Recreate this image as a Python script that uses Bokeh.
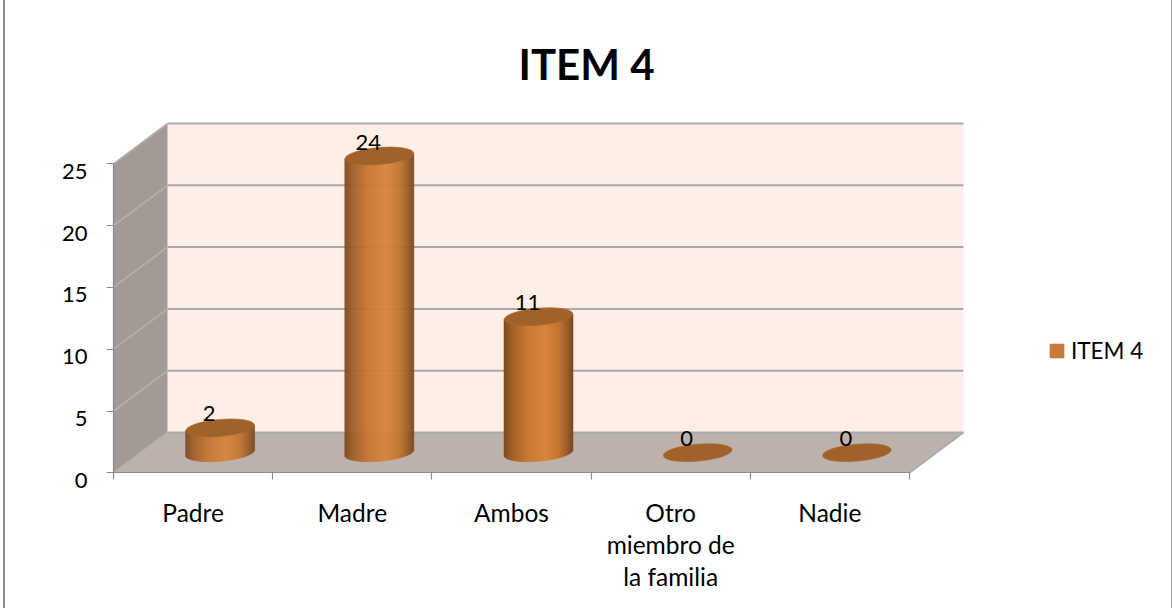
import numpy as np
from bokeh.core.properties import value
from bokeh.embed import file_html
from bokeh.models import (ColumnDataSource, FixedTicker, Legend, LegendItem,
                          LinearAxis, Range1d)
from bokeh.plotting import figure
from bokeh.resources import INLINE

TITLE = "ITEM 4"
categories = ["Padre", "Madre", "Ambos", "Otro\nmiembro de\nla familia", "Nadie"]
values = [2, 24, 11, 0, 0]
y_ticks = [0, 5, 10, 15, 20, 25]

FONT = "Lato"
W, H = 1172, 608
TOP = 100
X0, Y0 = 113.0, 472.3          # canvas pixel of the front-left floor corner
SX, SY = 159.2, 12.36          # pixels per category, pixels per unit
DX, DY = 54.0 / SX, 40.3 / SY  # depth of the 3D box in data units
LABEL_DROP = 7.5 / SY

p = figure(width=W, height=H, frame_width=W, frame_height=H - TOP, output_backend="svg",
           toolbar_location=None, tools="", min_border=0, min_border_top=TOP,
           x_range=Range1d(-X0 / SX, (W - X0) / SX),
           y_range=Range1d((Y0 - H) / SY, (Y0 - TOP) / SY),
           x_axis_type=None, y_axis_type=None, background_fill_color=None,
           border_fill_color=None, outline_line_color=None)
# the outer chart frame: left and right rules only
p.styles = {"position": "absolute", "left": "0", "top": "0",
            "background": "linear-gradient(#8c8c8c,#8c8c8c) 3px 0/2px 100% no-repeat, "
                          "linear-gradient(#a0a0a0,#a0a0a0) 1171px 0/1px 100% no-repeat"}
p.grid.visible = False
p.title.text = TITLE
p.title.align = "center"
p.title.offset = 2
p.title.text_font = FONT
p.title.text_font_size = "42px"
p.title.text_font_style = "bold"
p.title.text_color = "#000000"
p.title.standoff = 23

n = len(categories)
ymax = y_ticks[-1]

# walls and floor
p.patch([DX, n + DX, n + DX, DX], [DY, DY, ymax + DY, ymax + DY], fill_color="#fdeee6", line_color=None)
p.patch([0, DX, DX, 0], [0, DY, ymax + DY, ymax], fill_color="#a29a95", line_color=None)
p.patch([0, n, n + DX, DX], [0, 0, DY, DY], fill_color="#bdb1ac", line_color=None)

# gridlines on the back wall and on the side wall
GRID = "#a9a9a9"
p.segment(x0=[DX] * len(y_ticks), x1=[n + DX] * len(y_ticks), y0=[t + DY for t in y_ticks],
          y1=[t + DY for t in y_ticks], line_color=GRID, line_width=2)
p.segment(x0=[0] * len(y_ticks), x1=[DX] * len(y_ticks), y0=y_ticks,
          y1=[t + DY for t in y_ticks], line_color="#b5b0ad", line_width=1.6)
p.segment(x0=[n], x1=[n + DX], y0=[0], y1=[DY], line_color=GRID, line_width=1.6)

# cylinders
A, B, TILT = 34.5, 8.5, np.radians(5)
c, s = np.cos(TILT), np.sin(TILT)
P = s * s / A**2 + c * c / B**2
stops_f = [0.0, 0.12, 0.35, 0.6, 0.8, 0.93, 1.0]
stops_r = [0x7b, 0xa3, 0xc9, 0xd8, 0xc3, 0x96, 0x7b]
stops_g = [0x4a, 0x62, 0x7a, 0x86, 0x76, 0x5b, 0x4a]
stops_b = [0x20, 0x2b, 0x35, 0x3e, 0x31, 0x28, 0x20]
strips = dict(left=[], right=[], bottom=[], top=[], color=[])
edge = np.arange(-A, A, 1.0)
for i, v in enumerate(values):
    if v <= 0:
        continue
    cx = i + 0.5 + DX / 2
    for d in edge:
        m = d + 0.5
        Q = 2 * m * c * s * (1 / A**2 - 1 / B**2)
        R = m * m * (c * c / A**2 + s * s / B**2) - 1
        root = np.sqrt(max(Q * Q - 4 * P * R, 0))
        low = (-Q - root) / (2 * P)
        mid = -Q / (2 * P)
        f = (m + A) / (2 * A)
        col = "#%02x%02x%02x" % (int(np.interp(f, stops_f, stops_r)),
                                 int(np.interp(f, stops_f, stops_g)),
                                 int(np.interp(f, stops_f, stops_b)))
        strips["left"].append(cx + d / SX)
        strips["right"].append(cx + (d + 1) / SX)
        strips["bottom"].append(DY / 2 + low / SY)
        strips["top"].append(v + DY / 2 + mid / SY)
        strips["color"].append(col)
p.quad(left="left", right="right", bottom="bottom", top="top", source=ColumnDataSource(strips),
       fill_color="color", line_color="color", line_width=0.5)

xs = [i + 0.5 + DX / 2 for i in range(n)]
ys = [v + DY / 2 for v in values]
p.ellipse(x=xs, y=ys, width=2 * A / SX, height=2 * B / SY, angle=TILT,
          fill_color="#a0612b", line_color="#a8692f", line_width=0.6)

# value labels
p.text(x=xs, y=ys, text=[str(v) for v in values], text_font=value(FONT), text_font_size="22px",
       text_color="#000000", text_align="center", text_baseline="middle", x_offset=-11, y_offset=-14)

# axes: lines and ticks
AX = "#8a8a8a"
y_line = LinearAxis(ticker=FixedTicker(ticks=y_ticks), fixed_location=0, bounds=(0, ymax),
                    major_label_overrides={t: "" for t in y_ticks},
                    axis_line_color=AX, major_tick_line_color=AX, major_tick_out=7, major_tick_in=0,
                    axis_line_width=1.2, major_tick_line_width=1.2, minor_tick_line_color=None)
p.add_layout(y_line, "left")
x_edges = list(range(n + 1))
x_line = LinearAxis(ticker=FixedTicker(ticks=x_edges), fixed_location=0, bounds=(0, n),
                    major_label_overrides={t: "" for t in x_edges},
                    axis_line_color=AX, major_tick_line_color=AX, major_tick_out=7, major_tick_in=0,
                    axis_line_width=1.2, major_tick_line_width=1.2, minor_tick_line_color=None)
p.add_layout(x_line, "below")

# axes: tick labels (y labels hang below their tick in the reference)
p.extra_y_ranges["labels"] = Range1d((Y0 - H) / SY + LABEL_DROP, (Y0 - TOP) / SY + LABEL_DROP)
y_labels = LinearAxis(y_range_name="labels", ticker=FixedTicker(ticks=y_ticks), fixed_location=0,
                      axis_line_color=None, major_tick_line_color=None, minor_tick_line_color=None,
                      major_tick_out=0, major_tick_in=0, major_label_standoff=26,
                      major_label_text_font=FONT, major_label_text_font_size="22px",
                      major_label_text_color="#000000")
p.add_layout(y_labels, "left")
centers = [i + 0.5 for i in range(n)]
x_labels = LinearAxis(ticker=FixedTicker(ticks=centers), fixed_location=0,
                      major_label_overrides=dict(zip(centers, categories)),
                      axis_line_color=None, major_tick_line_color=None, minor_tick_line_color=None,
                      major_tick_out=0, major_tick_in=0, major_label_standoff=25,
                      major_label_text_font=FONT, major_label_text_font_size="24.5px",
                      major_label_text_color="#000000", major_label_text_line_height=1.1)
p.add_layout(x_labels, "below")

# legend
swatch = p.quad(left=[np.nan], right=[np.nan], bottom=[np.nan], top=[np.nan],
                fill_color="#ca7b3a", line_color="#b9712f", line_width=1)
legend = Legend(items=[LegendItem(label=TITLE, renderers=[swatch], index=0)], location=(1048, 244.5),
                padding=0, margin=0, spacing=0, glyph_width=17, glyph_height=17, label_standoff=6,
                background_fill_color=None, border_line_color=None, label_text_font=FONT,
                label_text_font_size="22.5px", label_text_color="#000000")
p.add_layout(legend)

open("out.html", "w").write(file_html(p, INLINE))
